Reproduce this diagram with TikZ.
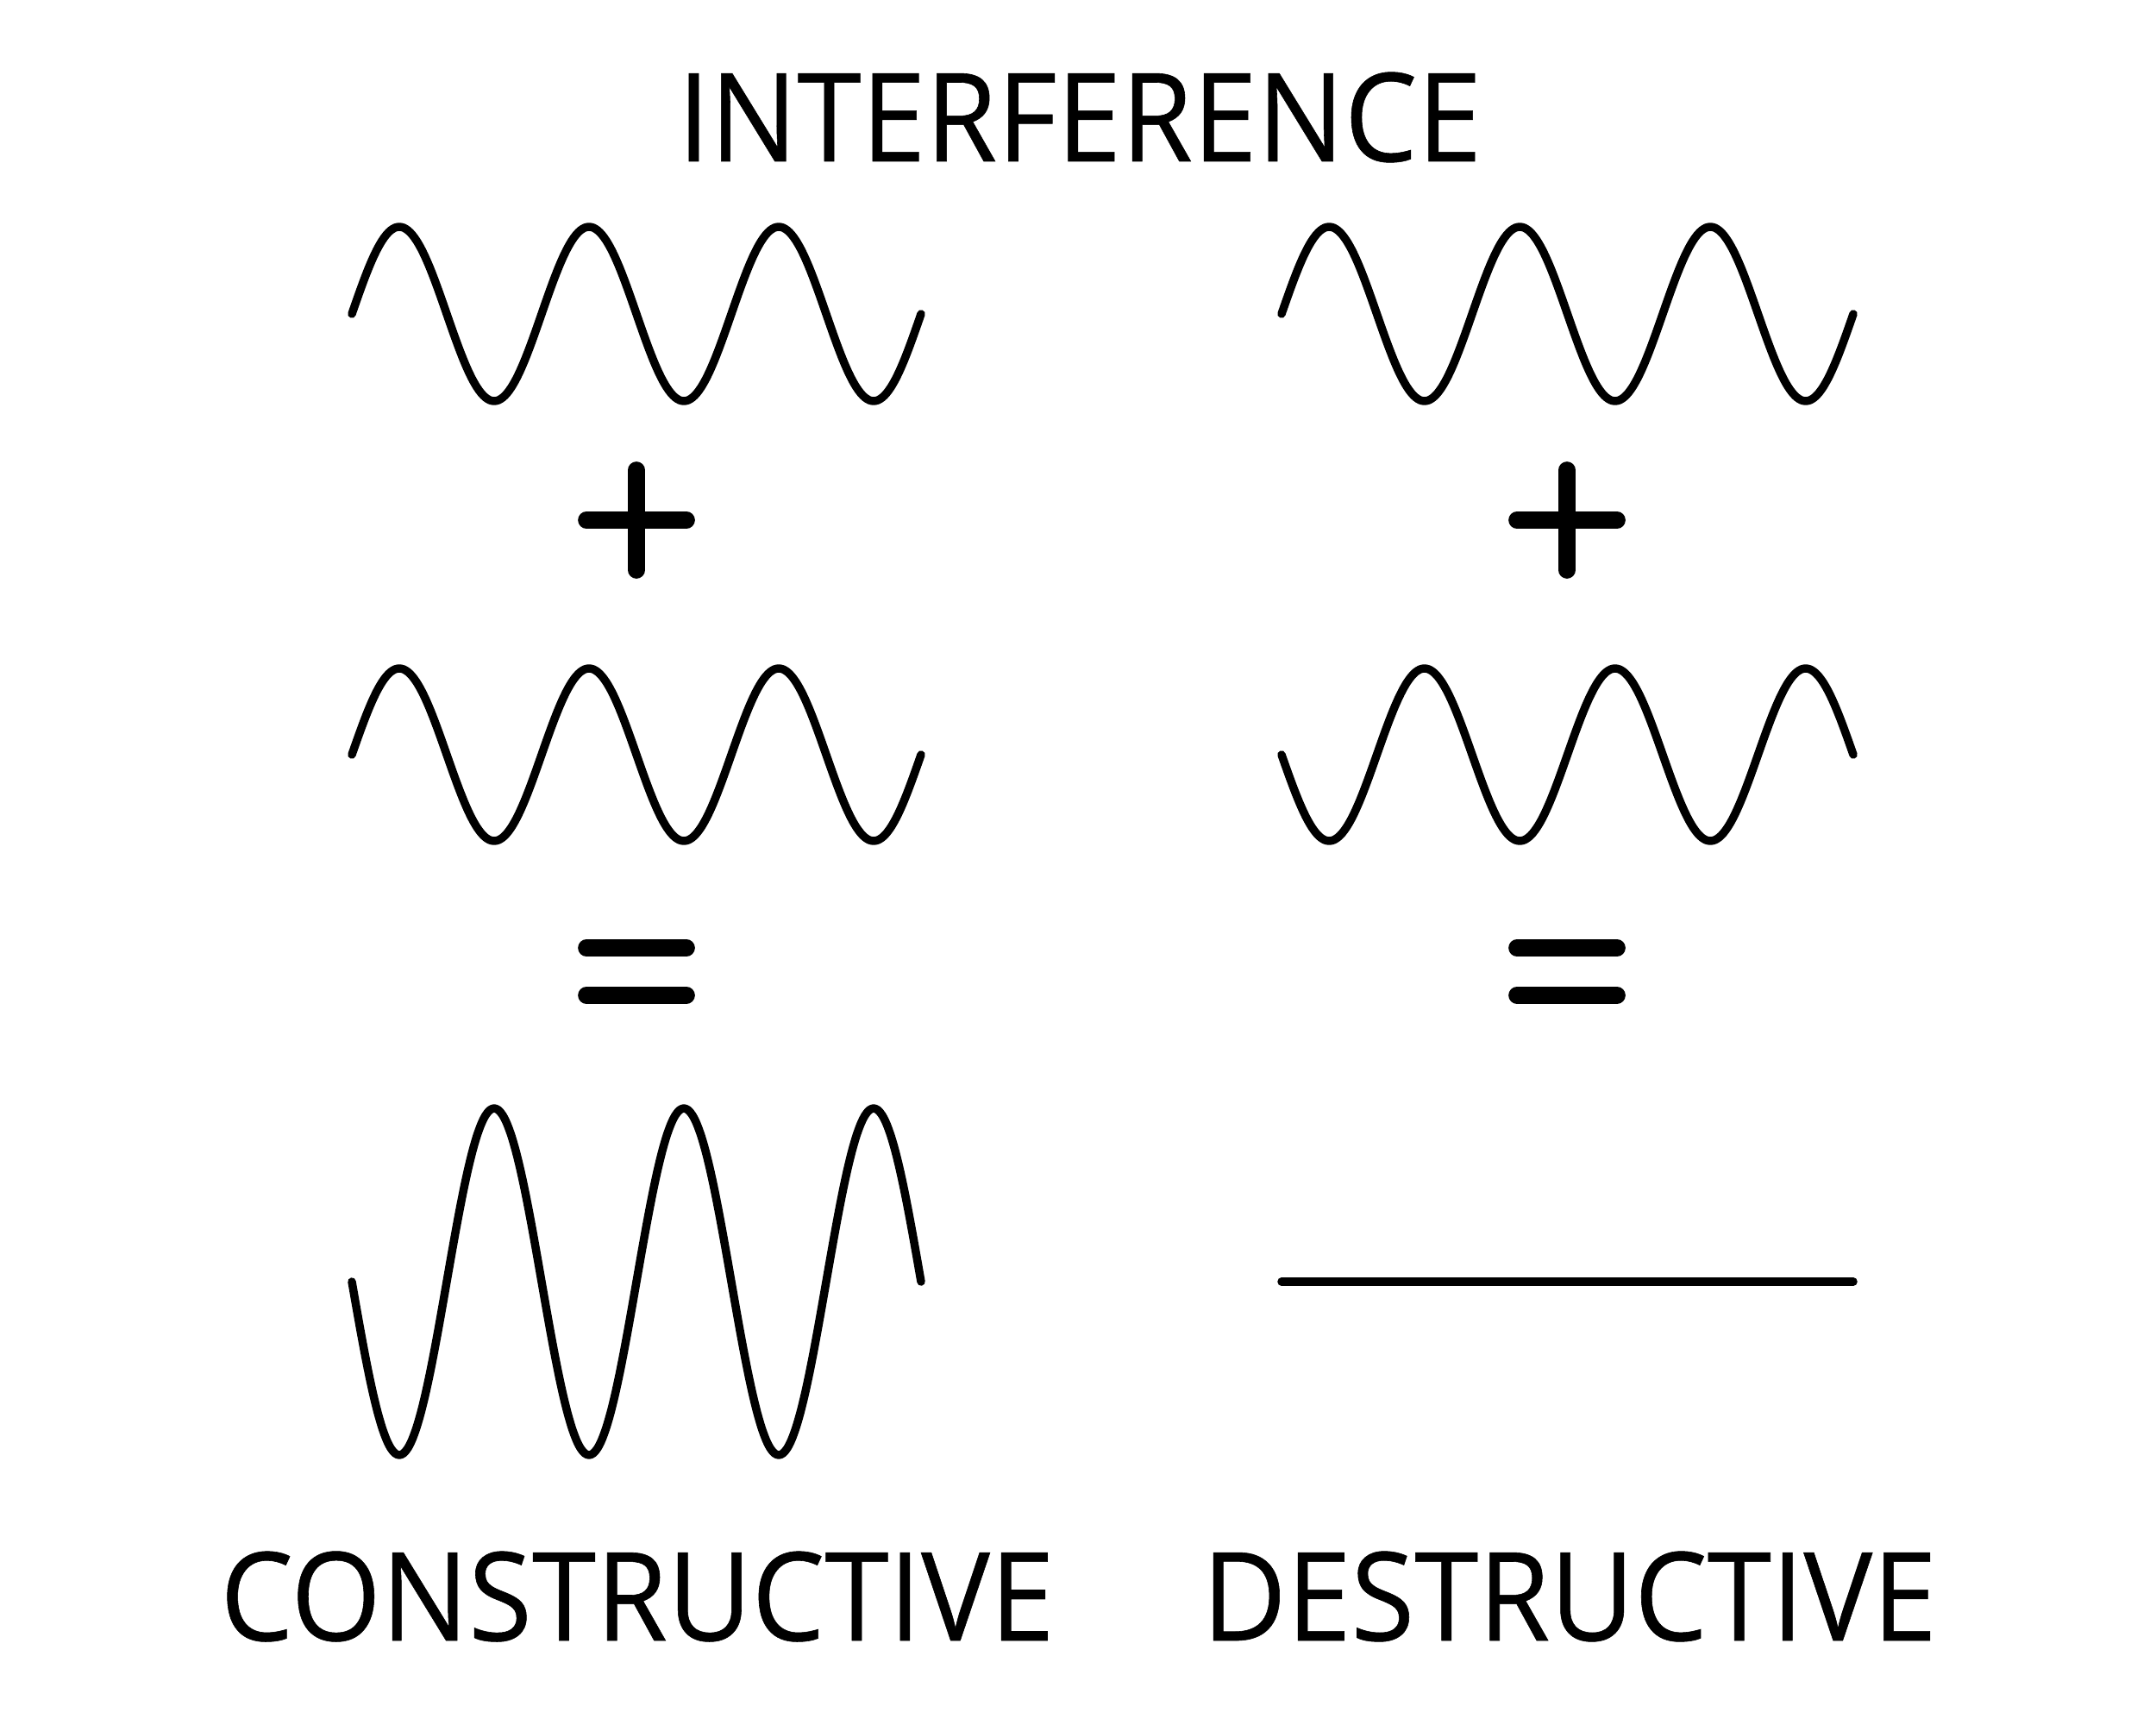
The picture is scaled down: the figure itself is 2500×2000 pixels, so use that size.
\documentclass[tikz,border=0pt]{standalone}
\usepackage{fontspec}
\usepackage{tikz}
\usetikzlibrary{positioning}
\newfontfamily\wavefont[FakeStretch=0.94, FakeBold=0.4]{Open Sans}
\definecolor{wv-ink}{HTML}{000000}

\begin{document}
\begin{tikzpicture}[x=0.01cm, y=-0.01cm,
    wave/.style={wv-ink, line width=2.7pt, line cap=round, line join=round},
    opsign/.style={wv-ink, line width=5.6pt, line cap=round},
    caption/.style={inner sep=0pt, font=\wavefont\fontsize{40.6}{48}\selectfont, text=wv-ink}]
    \useasboundingbox (0,0) rectangle (2500,2000);

    % Title
    \node[caption] (title) at (1252,136) {INTERFERENCE};

    % Constructive column (left), phase \x in degrees, 3 periods
    \draw[wave] plot[domain=0:1080, samples=133, smooth] ({408+\x/360*220}, {364-101*sin(\x)});
    \draw[opsign] (680,603) -- (796,603);
    \draw[opsign] (738,545) -- (738,661);
    \draw[wave] plot[domain=0:1080, samples=133, smooth] ({408+\x/360*220}, {875-100*sin(\x)});
    \draw[opsign] (680,1099) -- (796,1099);
    \draw[opsign] (680,1154) -- (796,1154);
    \draw[wave] plot[domain=0:1080, samples=133, smooth] ({408+\x/360*220}, {1486+201*sin(\x)});

    % Destructive column (right)
    \draw[wave] plot[domain=0:1080, samples=133, smooth] ({1486+\x/360*221}, {364-101*sin(\x)});
    \draw[opsign] (1759,603) -- (1875,603);
    \draw[opsign] (1817,545) -- (1817,661);
    \draw[wave] plot[domain=0:1080, samples=133, smooth] ({1486+\x/360*221}, {875+100*sin(\x)});
    \draw[opsign] (1759,1099) -- (1875,1099);
    \draw[opsign] (1759,1154) -- (1875,1154);
    \draw[wave] (1486,1486) -- (2149,1486);

    % Labels
    \node[caption] (constr) at (739,1851) {CONSTRUCTIVE};
    \node[caption] (destr) at (1820,1851) {DESTRUCTIVE};
\end{tikzpicture}
\end{document}
